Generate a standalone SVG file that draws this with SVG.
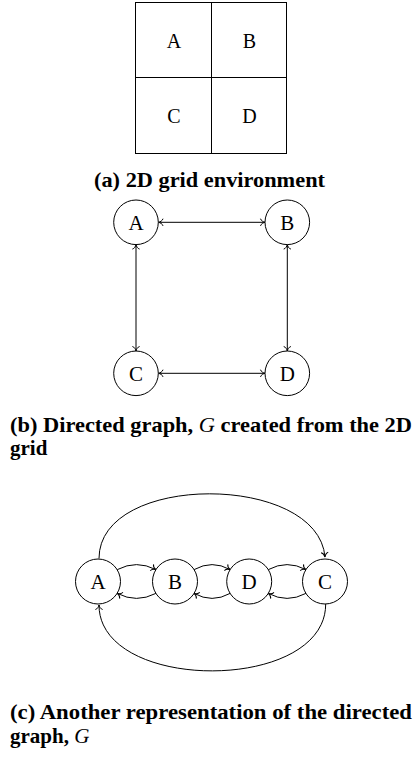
<svg xmlns="http://www.w3.org/2000/svg" width="414" height="765" viewBox="0 0 414 765">
<style>
.ln{fill:none;stroke:#000;stroke-width:1}
.nd{fill:#fff;stroke:#000;stroke-width:1}
.lb{font-family:"Liberation Serif","Times New Roman",serif;font-size:21px;text-anchor:middle;fill:#000}
.gl{font-family:"Liberation Serif","Times New Roman",serif;font-size:20px;text-anchor:middle;fill:#000}
.cap{font-family:"Liberation Serif","Times New Roman",serif;font-size:21px;font-weight:bold;fill:#000}
.mi{font-style:italic;font-weight:normal}
</style>
<defs>
<marker id="ar" markerUnits="userSpaceOnUse" markerWidth="12" markerHeight="12" viewBox="-6 -6 12 12" refX="0" refY="0" orient="auto-start-reverse">
<path d="M-4.5,-3.6 C-4,-1.5 -1.6,-0.4 0,0 C-1.6,0.4 -4,1.5 -4.5,3.6" fill="none" stroke="#000" stroke-width="1"/>
</marker>
</defs>

<!-- (a) grid -->
<g id="grid">
<rect x="135.5" y="2.5" width="151" height="151" class="ln"/>
<line x1="211.5" y1="2.5" x2="211.5" y2="153.5" class="ln"/>
<line x1="135.5" y1="77.5" x2="286.5" y2="77.5" class="ln"/>
</g>
<g id="cellA"><text x="174" y="48" class="gl">A</text></g>
<g id="cellB"><text x="249.5" y="48" class="gl">B</text></g>
<g id="cellC"><text x="174" y="123" class="gl">C</text></g>
<g id="cellD"><text x="249.5" y="123" class="gl">D</text></g>
<text x="94" y="186.7" class="cap" textLength="231" lengthAdjust="spacingAndGlyphs">(a) 2D grid environment</text>

<!-- (b) graph -->
<g id="edges-b" class="ln">
<line x1="158.5" y1="222.3" x2="265" y2="222.3" marker-start="url(#ar)" marker-end="url(#ar)"/>
<line x1="158.5" y1="373.3" x2="265" y2="373.3" marker-start="url(#ar)" marker-end="url(#ar)"/>
<line x1="136" y1="244.6" x2="136" y2="351" marker-start="url(#ar)" marker-end="url(#ar)"/>
<line x1="287.3" y1="244.6" x2="287.3" y2="351" marker-start="url(#ar)" marker-end="url(#ar)"/>
</g>
<g id="bA"><circle cx="136" cy="222.3" r="22.3" class="nd"/><text x="136" y="229.5" class="lb">A</text></g>
<g id="bB"><circle cx="287.3" cy="222.3" r="22.3" class="nd"/><text x="287.3" y="229.5" class="lb">B</text></g>
<g id="bC"><circle cx="136" cy="373.3" r="22.3" class="nd"/><text x="136" y="380.5" class="lb">C</text></g>
<g id="bD"><circle cx="287.3" cy="373.3" r="22.3" class="nd"/><text x="287.3" y="380.5" class="lb">D</text></g>
<text x="10" y="431.7" class="cap" textLength="402" lengthAdjust="spacingAndGlyphs">(b) Directed graph, <tspan class="mi">G</tspan> created from the 2D</text>
<text x="10" y="455" class="cap">grid</text>

<!-- (c) graph -->
<g id="edges-c" class="ln">
<path d="M99,558.5 C99,472 318,473 325,557" marker-end="url(#ar)"/>
<path d="M325.7,604 C325.7,693 99,693 99,605" marker-end="url(#ar)"/>
<path d="M117.3,569.6 Q136.5,559.6 155.9,569.6" marker-end="url(#ar)"/>
<path d="M155.9,593.4 Q136.5,603.4 117.3,593.4" marker-end="url(#ar)"/>
<path d="M194.1,569.6 Q212.1,559.6 230.1,569.6" marker-end="url(#ar)"/>
<path d="M230.1,593.4 Q212.1,603.4 194.1,593.4" marker-end="url(#ar)"/>
<path d="M268.3,569.6 Q287.1,559.6 305.9,569.6" marker-end="url(#ar)"/>
<path d="M305.9,593.4 Q287.1,603.4 268.3,593.4" marker-end="url(#ar)"/>
</g>
<g id="cA"><circle cx="98" cy="581.5" r="22.5" class="nd"/><text x="98" y="588.7" class="lb">A</text></g>
<g id="cB"><circle cx="175" cy="581.5" r="22.5" class="nd"/><text x="175" y="588.7" class="lb">B</text></g>
<g id="cD"><circle cx="249.2" cy="581.5" r="22.5" class="nd"/><text x="249.2" y="588.7" class="lb">D</text></g>
<g id="cC"><circle cx="325" cy="581.5" r="22.5" class="nd"/><text x="325" y="588.7" class="lb">C</text></g>
<text x="10" y="719.3" class="cap" textLength="402" lengthAdjust="spacingAndGlyphs">(c) Another representation of the directed</text>
<text x="10" y="742.8" class="cap">graph, <tspan class="mi">G</tspan></text>
</svg>
